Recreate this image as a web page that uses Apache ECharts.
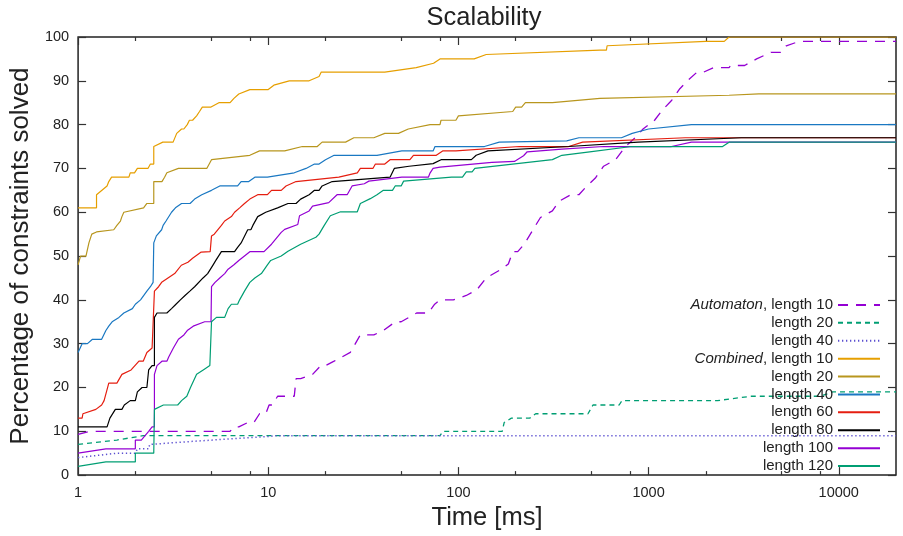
<!DOCTYPE html>
<html>
<head>
<meta charset="utf-8">
<script src="https://cdn.jsdelivr.net/npm/echarts@6/dist/echarts.min.js"></script>
<style>
html,body{margin:0;padding:0;background:#fff;}
#chart{width:903px;height:536px;}
</style>
</head>
<body>
<div id="chart"></div>
<script>
// ---------- data (time in ms, percentage solved) ----------
var autoLen10 = [[1,9.3],[1.15,10],[6.3,10],[6.6,11],[7.0,11],[7.8,12],[8.4,12],[9.0,14],[9.7,14],[10.1,16],[10.5,16],[11.2,18],[13.7,18],[14.0,22],[14.8,22],[17.1,23],[18.9,25],[20,25],[22.2,26],[27,28],[30.5,32],[35.9,32],[40.3,33],[46.6,35],[50,35],[60.3,37],[69.5,37],[75,39],[80,40],[94,40],[110,41],[125,42.3],[140,45],[168,47],[183,48.2],[193,51],[205,51],[222,52.7],[245,55.8],[270,58.8],[312,60.3],[338,62.5],[390,64],[430,64],[465,65.6],[525,67.8],[580,70.5],[670,72],[755,75],[850,77],[935,79],[1075,81],[1180,83.3],[1320,85.5],[1460,88.2],[1620,90.2],[1800,92],[1950,92],[2200,93],[2650,93],[2700,93.5],[3200,93.5],[3700,95],[4400,96.5],[4950,96.5],[5300,98],[6200,99],[20000,99]];
var autoLen20 = [[1,7],[1.6,8],[2.2,9],[80,9],[83,10],[170,10],[174,12],[190,13],[237,13],[255,14],[480,14],[510,16],[700,16],[725,17],[2300,17],[3460,18],[8000,18],[9300,19],[20000,19]];
var autoLen40 = [[1,4],[1.6,5],[2.0,5],[2.05,6],[2.35,6],[2.38,7],[4,7.7],[6,8.2],[10,8.8],[11,9],[20000,9]];
var combLen10 = [[1,61],[1.25,61],[1.25,64],[1.42,66],[1.45,67],[1.5,68],[1.85,68],[1.88,69],[1.98,69],[2.05,70],[2.33,70],[2.4,71],[2.5,71],[2.5,75],[2.79,76],[3.16,76],[3.3,78],[3.5,79],[3.6,79],[3.75,80],[3.85,81],[4.0,81],[4.2,82],[4.35,83],[4.5,84],[5.0,84],[5.5,85],[6.3,85],[6.6,86],[7.0,87],[8.0,88],[10,88],[10.7,89],[12.9,90],[16.4,90],[18.5,91],[19,92],[41,92],[60,93],[74,94],[80,95],[121,95],[140,96],[555,97],[600,97],[605,98],[2000,99],[2500,99],[2650,100],[20000,100]];
var combLen20 = [[1,48],[1.03,50],[1.1,50],[1.14,53],[1.18,55],[1.25,55.5],[1.54,56],[1.6,57],[1.67,58],[1.7,59],[1.74,60],[2.21,61],[2.3,62],[2.5,62],[2.5,67],[2.76,67],[2.85,68],[2.93,69],[3.37,70],[4.75,70],[5.03,72],[8.0,73],[9.0,74],[12.2,74],[15.1,75],[18.1,75],[19.2,76],[25.5,76],[28.2,77],[35.9,77],[41,78],[48.4,78],[54.5,79],[71,80],[80,80],[81,81],[97,81],[100,82],[193,83],[200,84],[215,84],[225,85],[312,85],[555,86],[2650,86.7],[3800,87],[20000,87]];
var combLen40 = [[1,28],[1.05,30],[1.12,30],[1.19,31],[1.33,31],[1.4,33],[1.45,34],[1.51,35],[1.64,36],[1.74,37],[1.93,38],[2.0,39],[2.13,40],[2.3,42],[2.4,43],[2.48,44],[2.5,53],[2.58,54.6],[2.63,55],[2.75,56],[2.8,57],[2.9,58],[3.1,60],[3.25,61],[3.5,62],[3.88,62],[4.1,63],[4.47,64],[5.03,65],[5.56,66],[6.9,66],[7.2,67],[7.9,67],[8.5,68],[9.9,68],[13.7,69],[15.8,70],[17.5,71],[18.5,71],[20,72],[22.2,73],[37.3,73],[50.4,74],[73.6,74],[75.3,75],[137,75],[164,76],[371,76.3],[430,77],[720,77],[820,78],[1000,79],[1680,80],[20000,80]];
var combLen60 = [[1,13],[1.05,13],[1.06,14],[1.24,15],[1.33,16],[1.37,17],[1.45,21],[1.6,21],[1.7,23],[1.9,24],[2.09,26],[2.2,26],[2.3,28],[2.45,29],[2.5,29],[2.52,42],[2.65,43],[2.75,44],[2.97,45],[3.22,46],[3.49,47.9],[3.78,48.6],[4.0,49.5],[4.44,50.9],[4.95,51],[5.03,54.6],[5.2,55],[5.67,57],[5.9,58],[6.4,59],[6.65,60],[7.07,61],[7.5,62],[8.0,63],[8.8,64],[9.9,64],[10.4,65],[11.7,65],[12.4,66],[14,67],[23.5,68],[29.4,69],[30.5,70],[35.5,70],[36.6,71],[41,71],[43.7,72],[55.6,72],[58,73],[76.5,73],[82.6,74],[97,74],[209,75],[380,75],[450,76],[1560,77],[20000,77]];
var combLen80 = [[1,11],[1.42,11],[1.47,13],[1.57,15],[1.7,15],[1.75,16],[1.88,17],[2.0,17],[2.05,19],[2.17,20],[2.3,20],[2.35,24],[2.45,25],[2.52,25],[2.52,36],[2.6,37],[2.93,37],[3.1,38],[3.27,39],[3.45,40],[3.65,41],[3.87,42],[4.1,43],[4.54,45],[4.8,46],[5.13,48],[5.3,49],[5.67,51],[6.65,51],[6.9,52],[7.2,53],[7.8,56],[8.1,56],[8.3,57],[8.8,59],[9.7,60],[11.2,61],[12.7,62],[14,62],[14.8,63],[16.4,64],[17.5,65],[18.5,65],[19.2,66],[21.7,67],[43.7,68],[46,70],[55,70.5],[73.6,71.1],[81,72],[117,72],[124,73],[143,74],[380,75],[880,76],[3070,77],[20000,77]];
var combLen100 = [[1,5],[1.4,6],[2.0,6],[2.0,8],[2.15,8],[2.25,9],[2.35,10],[2.45,11],[2.52,11],[2.52,23],[2.6,25],[2.76,26],[2.93,26],[3.0,27],[3.17,29],[3.37,31],[3.6,32],[3.75,33],[4.03,34],[4.63,35],[5.0,35],[5.03,43],[5.25,44],[5.56,45],[5.9,46],[6.15,47],[6.6,48],[7.0,49],[8.0,51],[9.5,51],[10.4,52.7],[11.7,55.4],[12.2,56.1],[14.3,57.2],[14.6,59.2],[16.4,60.3],[17.1,61.4],[20.8,62.2],[23,64],[26,64],[27.6,66],[32,66.5],[33.8,67.1],[50.4,68],[69.5,68],[71,69],[73.6,70],[80,70.3],[150,71.4],[197,71.6],[220,72.9],[230,73.8],[350,74.4],[580,75],[1320,75],[1680,76],[20000,76]];
var combLen120 = [[1,2],[1.4,3],[2.0,3],[2.0,5],[2.5,5],[2.52,15],[2.81,16],[3.34,16],[3.5,17],[3.73,18],[3.9,20],[4.2,23],[4.55,24],[4.93,25],[5.03,25],[5.03,35],[5.34,36],[5.9,36],[6.15,38],[6.4,39],[6.9,39],[7.07,40],[7.5,42],[8.0,44],[8.5,45],[9.2,46],[9.9,48],[10.3,49],[11.7,50],[12.7,51.1],[14.8,52.7],[17.8,54.3],[18.5,55],[19.7,57],[21.2,59.2],[24,60.1],[29.4,60.1],[30.5,62],[34.4,63.1],[37.3,64],[40.3,65],[45,65],[46.5,66],[50,66],[51.5,67.1],[92,68],[105,68],[110,69.2],[118,69.2],[122,70],[312,72],[350,73],[490,73.8],[815,75],[2450,75],[2650,76],[20000,76]];

var seriesNames = ['Automaton, length 10','Automaton, length 20','Automaton, length 40','Combined, length 10','Combined, length 20','Combined, length 40','Combined, length 60','Combined, length 80','Combined, length 100','Combined, length 120'];
var legendPrefix = ['Automaton','','','Combined','','','','','',''];
var legendSuffix = [', length 10','length 20','length 40',', length 10','length 20','length 40','length 60','length 80','length 100','length 120'];
var seriesData = [autoLen10, autoLen20, autoLen40, combLen10, combLen20, combLen40, combLen60, combLen80, combLen100, combLen120];

var xMajorTicks = [1, 10, 100, 1000, 10000];
var xMinorTicks = [2, 5, 8, 20, 50, 80, 200, 500, 800, 2000, 5000, 8000];

// ---------- styles ----------
var colors = ['#9400D3','#009E73','#5B4FD0','#E69F00','#B8961E','#1A78C2','#E51E10','#000000','#9400D3','#009E73'];
var widths = [1.3,1.3,1.5,1.2,1.2,1.2,1.2,1.2,1.2,1.2];
var dashes = [[10,8],[5,4],[1.3,2.7],null,null,null,null,null,null,null];
var FONT = '"Liberation Sans", Arial, Helvetica, sans-serif';
var TXT = '#222';

var series = seriesData.map(function (d, i) {
  return {
    name: seriesNames[i],
    type: 'line',
    data: d,
    symbol: 'none',
    xAxisIndex: 0,
    yAxisIndex: 0,
    lineStyle: { color: colors[i], width: widths[i], type: dashes[i] || 'solid' },
    itemStyle: { color: colors[i] },
    emphasis: { disabled: true },
    z: 2 + i
  };
});

function xAxisDef(pos, ticks, len, showLabel) {
  return {
    type: 'log', logBase: 10, min: 1, max: 20000, position: pos,
    axisLine: { show: false, onZero: false },
    splitLine: { show: false },
    minorTick: { show: false },
    axisTick: { show: true, inside: true, length: len, customValues: ticks,
      lineStyle: { color: '#333', width: 1.2 } },
    axisLabel: { show: showLabel, customValues: ticks, margin: 10, color: TXT,
      fontSize: 14.5, fontFamily: FONT,
      formatter: function (v) { return String(Math.round(v)); } }
  };
}

var chart = echarts.init(document.getElementById('chart'), null, { renderer: 'canvas' });
chart.setOption({
  animation: false,
  backgroundColor: '#fff',
  title: {
    text: 'Scalability', left: 479, top: 0, textAlign: 'center',
    textStyle: { fontSize: 25.5, fontWeight: 'normal', color: TXT, fontFamily: FONT }
  },
  grid: { left: 72, right: 7, top: 37, bottom: 56, show: true, borderColor: '#222', borderWidth: 1.5, backgroundColor: 'transparent' },
  legend: {
    orient: 'vertical', right: 17, top: 291, align: 'right',
    itemWidth: 42, itemHeight: 14, itemGap: 0,
    data: seriesNames,
    selectedMode: false,
    itemStyle: { opacity: 0 },
    formatter: function (name) {
      var i = seriesNames.indexOf(name);
      return legendPrefix[i] ? '{it|' + legendPrefix[i] + '}{n|' + legendSuffix[i] + '}' : '{n|' + legendSuffix[i] + '}';
    },
    textStyle: {
      width: 160, color: TXT, fontSize: 15, fontFamily: FONT, lineHeight: 17.9,
      rich: {
        it: { fontStyle: 'italic', fontSize: 15, fontFamily: FONT, color: TXT, align: 'right', lineHeight: 17.9 },
        n: { fontSize: 15, fontFamily: FONT, color: TXT, align: 'right', lineHeight: 17.9 }
      }
    }
  },
  xAxis: [
    Object.assign(xAxisDef('bottom', xMajorTicks, 8, true), {
      name: 'Time [ms]', nameLocation: 'middle', nameGap: 25,
      nameTextStyle: { fontSize: 25.5, color: TXT, fontFamily: FONT }
    }),
    xAxisDef('bottom', xMinorTicks, 4, false),
    xAxisDef('top', xMajorTicks, 8, false),
    xAxisDef('top', xMinorTicks, 4, false)
  ],
  yAxis: [
    {
      type: 'value', min: 0, max: 100, interval: 10, position: 'left',
      name: 'Percentage of constraints solved', nameLocation: 'middle', nameGap: 38,
      nameTextStyle: { fontSize: 26, color: TXT, fontFamily: FONT },
      axisLine: { show: false, onZero: false },
      splitLine: { show: false },
      axisTick: { show: true, inside: true, length: 8, lineStyle: { color: '#333', width: 1.2 } },
      axisLabel: { margin: 9, color: TXT, fontSize: 14.5, fontFamily: FONT }
    },
    {
      type: 'value', min: 0, max: 100, interval: 10, position: 'right',
      axisLine: { show: false, onZero: false },
      splitLine: { show: false },
      axisTick: { show: true, inside: true, length: 8, lineStyle: { color: '#333', width: 1.2 } },
      axisLabel: { show: false }
    }
  ],
  series: series
});
</script>
</body>
</html>
